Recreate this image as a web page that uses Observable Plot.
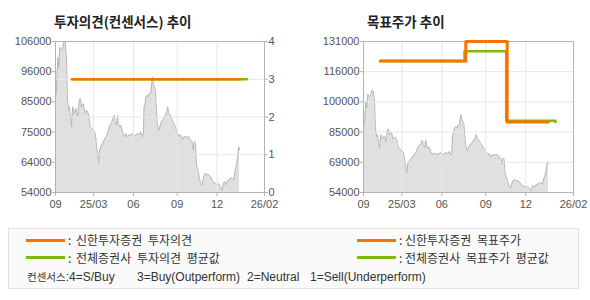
<!DOCTYPE html>
<html><head><meta charset="utf-8">
<script src="https://cdn.jsdelivr.net/npm/d3@7"></script>
<script src="https://cdn.jsdelivr.net/npm/@observablehq/plot@0.6"></script>
<style>
body{margin:0;background:#fff;width:590px;height:300px;overflow:hidden;position:relative;font-family:'Liberation Sans','Noto Sans CJK KR',sans-serif;}
.abs{position:absolute;}
.title{position:absolute;font-family:'Noto Sans CJK KR',sans-serif;font-weight:bold;font-size:13.5px;line-height:13px;color:#222;white-space:nowrap;}
#legend{position:absolute;left:8px;top:228px;width:569px;height:59px;background:#fafafa;border:1px solid #e2e2e2;}
.sw{position:absolute;width:39px;height:3px;}
.lt{position:absolute;font-family:'Noto Sans CJK KR',sans-serif;font-size:12px;line-height:12px;color:#333;white-space:nowrap;word-spacing:3px;}
.ct{position:absolute;font-family:'Liberation Sans',sans-serif;font-size:12px;line-height:12px;color:#333;white-space:nowrap;}
</style></head>
<body>
<div id="lb" class="abs" style="left:0;top:0"></div>
<div id="lt" class="abs" style="left:0;top:0"></div>
<div id="rp" class="abs" style="left:295px;top:0"></div>
<div class="title" style="left:54px;top:15px">투자의견(컨센서스) 추이</div>
<div class="title" style="left:367px;top:15px">목표주가 추이</div>
<div id="legend"></div>
<script>
// ---- data ----
const priceDay = [0,1,2.3,3.3,4.3,5.7,7.3,8.3,9.7,11,12,13,14,15,16,17.3,19,20.7,22.3,24,25,26.3,28,29.7,31.3,33,34,35,36.3,38.3,40,41.3,42.3,43.3,44.3,45.7,47.3,49,50.7,52.3,54,55.7,57.3,59,60,61.3,62.3,63.3,64.3,65.7,67.3,69,70.7,72.3,74,75.7,77.3,79,80.7,82.3,84,85.7,87.3,88.3,89,90,91,92.3,93.3,94.3,95.7,96.7,97.3,98.3,99.3,100.3,101.3,102.3,103.7,105,106.3,107.7,109,110.3,111.7,112.7,114,115.7,117.3,119,120.7,122.3,124,125.7,127.3,129,130.7,132.3,134,135.7,137.3,138.3,139.7,140.7,141.7,143,144.3,145.7,147.3,149,150.7,152.3,154,155.7,157.3,159,160.7,162.3,164,165.7,167.3,168.3,169.7,171,172.3,174,175.7,177.3,179,180.3,181.7,182.7,183.3,184,185];
const priceValue = [86900,89200,100600,97200,104100,102900,103500,106000,105800,100600,86900,82300,83500,80100,76600,83500,81200,82900,80100,85800,86300,83500,84600,81200,82300,81200,78900,76600,76100,75700,74300,69800,67500,64100,68600,69800,70900,72100,73200,74300,76600,77800,78900,80600,77800,77200,80600,77800,76600,77200,74900,73200,74300,73200,73800,73800,74300,73200,73800,74300,73800,74900,73200,74300,83500,84600,86900,87500,86900,88100,88100,91500,93800,91500,90300,89200,82900,77800,75500,76600,78300,78900,79500,80600,81800,83500,81200,80600,78900,77800,76100,74900,73400,73800,72100,73200,73200,73000,73200,72100,71500,68600,71500,70900,63500,61800,59500,57200,56600,59500,60600,60100,60100,59500,58300,57400,57200,56600,57000,56100,54700,56600,57800,56600,57800,58300,58900,58900,58300,61200,62900,65200,67500,69800,68600];

const xDomain = [0, 210];
const xTickPos = [0, 38.3, 78.3, 122.3, 162.3, 210];
const xTickLabels = ["09", "25/03", "06", "09", "12", "26/02"];

const leftPriceTicks = [54000, 64400, 74800, 85200, 95600, 106000];
const leftPriceLabels = ["54000", "64000", "75000", "85000", "96000", "106000"];
const ratingTicks = [0, 1, 2, 3, 4];
const ratingLabels = ["0", "1", "2", "3", "4"];
const rightPriceTicks = [54000, 69400, 84800, 100200, 115600, 131000];
const rightPriceLabels = ["54000", "69000", "85000", "100000", "116000", "131000"];

const shinhanRatingDay = [16.7, 185.7];
const shinhanRatingValue = [3, 3];
const avgRatingDay = [16.7, 192.3];
const avgRatingValue = [3, 3];

const shinhanTargetDay = [16.7, 102.3, 143.7, 185];
const shinhanTargetValue = [121000, 131000, 90000, 90000];
const avgTargetDay = [16.7, 101, 142.7, 192];
const avgTargetValue = [121000, 126000, 90600, 89800];

const legendItems = [
  {label: "신한투자증권 투자의견", color: "#f57500"},
  {label: "전체증권사 투자의견 평균값", color: "#7dbd0a"},
  {label: "신한투자증권 목표주가", color: "#f57500"},
  {label: "전체증권사 목표주가 평균값", color: "#7dbd0a"}
];
const consensusParts = ["4=S/Buy", "3=Buy(Outperform)", "2=Neutral", "1=Sell(Underperform)"];

// ---- build ----
const ORANGE = "#f57500", GREEN = "#7dbd0a";
const zip = (xs, ys) => xs.map((d, i) => ({d, v: ys[i]}));
const priceData = zip(priceDay, priceValue);
const fmt = (ticks, labels) => t => labels[ticks.indexOf(t)];
const style = {background: "transparent", fontFamily: "Liberation Sans, Arial, sans-serif", fontSize: "11px", overflow: "visible"};
const GRID = "#e7e7e7", FRAME = "#b4b4b4", AREA = "#e0e0e0", PLINE = "#b8b8b8", TXT = "#555";

const leftDims = {width: 295, height: 220, marginLeft: 55, marginRight: 31, marginTop: 41, marginBottom: 28};
const rightDims = {width: 295, height: 220, marginLeft: 68, marginRight: 17, marginTop: 41, marginBottom: 28};

// left bottom: price area + price axis
document.getElementById("lb").append(Plot.plot({
  ...leftDims, style,
  x: {domain: xDomain, axis: null},
  y: {domain: [leftPriceTicks[0], leftPriceTicks[leftPriceTicks.length - 1]]},
  marks: [
    Plot.areaY(priceData, {x: "d", y1: leftPriceTicks[0], y2: "v", fill: AREA}),
    Plot.lineY(priceData, {x: "d", y: "v", stroke: PLINE, strokeWidth: 1}),
    Plot.axisY({ticks: leftPriceTicks, tickFormat: fmt(leftPriceTicks, leftPriceLabels), tickSize: 3, tickPadding: 1, label: null, stroke: FRAME, fill: TXT})
  ]
}));

// left top: grids, rating lines, rating axis, x axis
document.getElementById("lt").append(Plot.plot({
  ...leftDims, style,
  x: {domain: xDomain},
  y: {domain: [ratingTicks[0], ratingTicks[ratingTicks.length - 1]]},
  marks: [
    Plot.gridX({ticks: xTickPos.slice(1, -1), stroke: GRID, strokeOpacity: 1}),
    Plot.gridY({ticks: ratingTicks.slice(1, -1), stroke: GRID, strokeOpacity: 1}),
    Plot.frame({stroke: FRAME}),
    Plot.axisY({anchor: "right", ticks: ratingTicks, tickFormat: fmt(ratingTicks, ratingLabels), tickSize: 3, tickPadding: 1, label: null, stroke: FRAME, fill: TXT}),
    Plot.axisX({ticks: xTickPos, tickFormat: fmt(xTickPos, xTickLabels), tickSize: 4, tickPadding: 3.5, label: null, stroke: FRAME, fill: TXT}),
    Plot.line(zip(avgRatingDay, avgRatingValue), {x: "d", y: "v", stroke: GREEN, strokeWidth: 2.5}),
    Plot.line(zip(shinhanRatingDay, shinhanRatingValue), {x: "d", y: "v", stroke: ORANGE, strokeWidth: 2.5})
  ]
}));

// right panel
document.getElementById("rp").append(Plot.plot({
  ...rightDims, style,
  x: {domain: xDomain},
  y: {domain: [rightPriceTicks[0], rightPriceTicks[rightPriceTicks.length - 1]]},
  marks: [
    Plot.areaY(priceData, {x: "d", y1: rightPriceTicks[0], y2: "v", fill: AREA}),
    Plot.lineY(priceData, {x: "d", y: "v", stroke: PLINE, strokeWidth: 1}),
    Plot.gridX({ticks: xTickPos.slice(1, -1), stroke: GRID, strokeOpacity: 1}),
    Plot.gridY({ticks: rightPriceTicks.slice(1, -1), stroke: GRID, strokeOpacity: 1}),
    Plot.frame({stroke: FRAME}),
    Plot.axisY({ticks: rightPriceTicks, tickFormat: fmt(rightPriceTicks, rightPriceLabels), tickSize: 3, tickPadding: 1, label: null, stroke: FRAME, fill: TXT}),
    Plot.axisX({ticks: xTickPos, tickFormat: fmt(xTickPos, xTickLabels), tickSize: 4, tickPadding: 3.5, label: null, stroke: FRAME, fill: TXT}),
    Plot.line(zip(avgTargetDay, avgTargetValue), {x: "d", y: "v", stroke: GREEN, strokeWidth: 2.5, curve: "step-after"}),
    Plot.line(zip(shinhanTargetDay, shinhanTargetValue), {x: "d", y: "v", stroke: ORANGE, strokeWidth: 3, curve: "step-after"})
  ]
}));

// legend
const lg = document.getElementById("legend");
const pos = [[17, 10, 5], [17, 27, 22.5], [348, 10, 5], [348, 27, 22.5]];
legendItems.forEach((it, i) => {
  const [x, y, ty] = pos[i];
  const sw = document.createElement("div");
  sw.className = "sw"; sw.style.left = x + "px"; sw.style.top = y + "px"; sw.style.background = it.color;
  lg.append(sw);
  const c = document.createElement("div");
  c.className = "lt"; c.style.left = (x + 42) + "px"; c.style.top = ty + "px"; c.textContent = ":";
  lg.append(c);
  const t = document.createElement("div");
  t.className = "lt"; t.style.left = (x + (i < 2 ? 50 : 48)) + "px"; t.style.top = ty + "px"; t.textContent = it.label;
  lg.append(t);
});
const cx = [18, 128, 238, 301];
consensusParts.forEach((p, i) => {
  const t = document.createElement("div");
  t.className = "ct"; t.style.left = cx[i] + "px"; t.style.top = "42px";
  if (i === 0) { t.innerHTML = '<span style="font-family:Noto Sans CJK KR;font-size:10.5px">컨센서스</span>:' + p; }
  else t.textContent = p;
  lg.append(t);
});
</script>
</body></html>
